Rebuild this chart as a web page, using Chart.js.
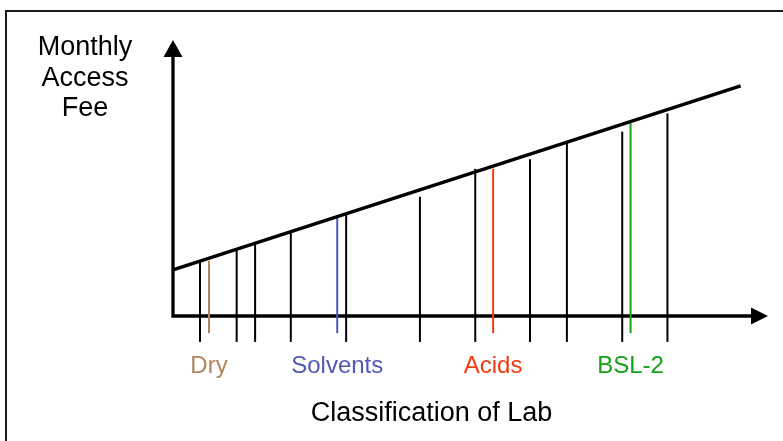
<!DOCTYPE html>
<html>
<head>
<meta charset="utf-8">
<script src="https://cdn.jsdelivr.net/npm/chart.js@4/dist/chart.umd.min.js"></script>
<style>
  html, body { margin: 0; padding: 0; background: #ffffff; }
  #wrap { width: 783px; height: 441px; position: relative; }
</style>
</head>
<body>
<div id="wrap"><canvas id="c" width="783" height="441"></canvas></div>
<script>
// ---- data (arbitrary units: classification 0-100, fee 0-100) ----
const trendX = [0, 95.4];
const trendY = [16.7, 83.4];

const labStops = [4.54, 10.7, 13.8, 19.8, 29.1, 41.5, 50.8, 60.0, 66.2, 75.5, 83.1];
const labFees  = [19.7, 23.7, 26.1, 30.2, 37.1, 43.2, 53.3, 56.8, 63.0, 66.8, 73.4];
const stickBase = -9.4;

const categories   = ['Dry', 'Solvents', 'Acids', 'BSL-2'];
const categoryX    = [6.05, 27.6, 53.8, 76.9];
const categoryFee  = [20.0, 36.6, 53.3, 70.4];
const categoryBase = -6.2;
const categoryColors = ['#b08660', '#5058b8', '#f23a12', '#14a314'];

const yTitleLines = ['Monthly', 'Access', 'Fee'];
const xTitle = 'Classification of Lab';

// ---- datasets built from the arrays ----
const datasets = [];
datasets.push({
  data: trendX.map((x, i) => ({ x: x, y: trendY[i] })),
  borderColor: '#000000', borderWidth: 3.5, pointRadius: 0, clip: false
});
labStops.forEach((x, i) => {
  datasets.push({
    data: [{ x: x, y: stickBase }, { x: x, y: labFees[i] }],
    borderColor: '#000000', borderWidth: 2, pointRadius: 0, clip: false, borderCapStyle: 'butt'
  });
});
categories.forEach((c, i) => {
  datasets.push({
    data: [{ x: categoryX[i], y: categoryBase }, { x: categoryX[i], y: categoryFee[i] }],
    borderColor: categoryColors[i], borderWidth: 2, pointRadius: 0, clip: false, borderCapStyle: 'butt'
  });
});

const decor = {
  id: 'decor',
  beforeDatasetsDraw(chart) {
    const ctx = chart.ctx;
    const xs = chart.scales.x, ys = chart.scales.y;
    const ca = chart.chartArea;
    const x0 = xs.getPixelForValue(0), y0 = ys.getPixelForValue(0);
    ctx.save();
    // frame (top + left)
    ctx.strokeStyle = '#1a1a1a';
    ctx.lineWidth = 2;
    ctx.beginPath();
    ctx.moveTo(6, 441); ctx.lineTo(6, 11); ctx.lineTo(783, 11);
    ctx.stroke();
    // axes
    ctx.strokeStyle = '#000'; ctx.fillStyle = '#000';
    ctx.lineWidth = 3.3;
    ctx.lineJoin = 'miter';
    ctx.beginPath();
    ctx.moveTo(x0, ca.top + 15);
    ctx.lineTo(x0, y0);
    ctx.lineTo(ca.right - 15, y0);
    ctx.stroke();
    // arrow heads
    ctx.beginPath();
    ctx.moveTo(x0, ca.top);
    ctx.lineTo(x0 - 9.5, ca.top + 17);
    ctx.lineTo(x0 + 9.5, ca.top + 17);
    ctx.closePath(); ctx.fill();
    ctx.beginPath();
    ctx.moveTo(ca.right, y0);
    ctx.lineTo(ca.right - 17, y0 - 8.5);
    ctx.lineTo(ca.right - 17, y0 + 8.5);
    ctx.closePath(); ctx.fill();
    ctx.restore();
  },
  afterDatasetsDraw(chart) {
    const ctx = chart.ctx;
    const xs = chart.scales.x;
    ctx.save();
    ctx.textAlign = 'center';
    ctx.textBaseline = 'alphabetic';
    ctx.fillStyle = '#000';
    ctx.font = '27px "Liberation Sans", Arial, sans-serif';
    yTitleLines.forEach((t, i) => ctx.fillText(t, 85, 55 + i * 30.7));
    ctx.fillText(xTitle, 431.5, 421);
    ctx.font = '24px "Liberation Sans", Arial, sans-serif';
    categories.forEach((c, i) => {
      ctx.fillStyle = categoryColors[i];
      ctx.fillText(c, xs.getPixelForValue(categoryX[i]), 373);
    });
    ctx.restore();
  }
};

new Chart(document.getElementById('c'), {
  type: 'line',
  data: { datasets: datasets },
  options: {
    responsive: false,
    animation: false,
    events: [],
    layout: { padding: { left: 173, right: 15, top: 40, bottom: 125 } },
    scales: {
      x: { type: 'linear', min: 0, max: 100, display: false },
      y: { type: 'linear', min: 0, max: 100, display: false }
    },
    plugins: { legend: { display: false }, tooltip: { enabled: false }, title: { display: false } }
  },
  plugins: [decor]
});
</script>
</body>
</html>
